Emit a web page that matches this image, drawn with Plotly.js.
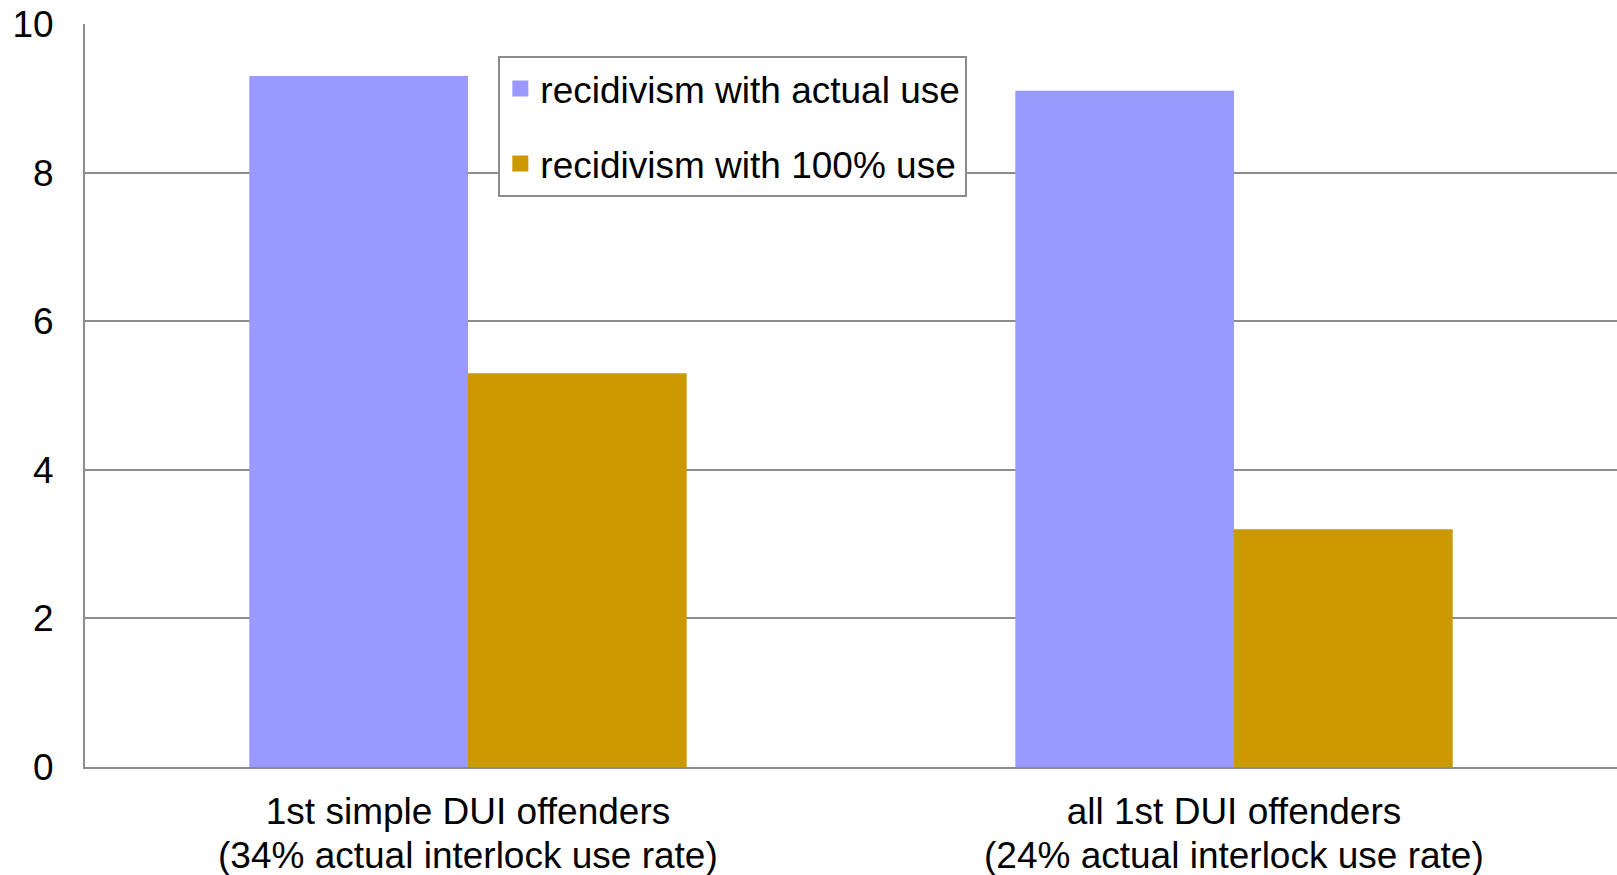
<!DOCTYPE html>
<html>
<head>
<meta charset="utf-8">
<script src="https://cdn.plot.ly/plotly-3.0.1.min.js"></script>
<style>html,body{margin:0;padding:0;background:#fff;}#chart{width:1617px;height:875px;}</style>
</head>
<body>
<div id="chart"></div>
<script>
const categories = ["1st simple DUI offenders", "all 1st DUI offenders"];
const categoryNotes = ["(34% actual interlock use rate)", "(24% actual interlock use rate)"];
const seriesNames = ["recidivism with actual use", "recidivism with 100% use"];
const actualUse = [9.3, 9.1];
const fullUse = [5.3, 3.2];
const yTicks = [0, 2, 4, 6, 8, 10];
const colors = ["#9999FF", "#CC9900"];

const font = {family: "Liberation Sans, Arial, sans-serif", size: 37, color: "#000"};
const gridColor = "#8c8c8c";

const traces = [
  {type: "bar", x: categories, y: actualUse, name: seriesNames[0], marker: {color: colors[0]}, showlegend: false, hoverinfo: "none"},
  {type: "bar", x: categories, y: fullUse, name: seriesNames[1], marker: {color: colors[1]}, showlegend: false, hoverinfo: "none"},
  {type: "scatter", mode: "markers", x: [categories[0]], y: [null], name: seriesNames[0], legendgroup: "a",
   marker: {symbol: "square", size: 20, color: colors[0]}, hoverinfo: "none"},
  {type: "scatter", mode: "markers", x: [categories[0]], y: [null], name: seriesNames[1], legendgroup: "b",
   marker: {symbol: "square", size: 20, color: colors[1]}, hoverinfo: "none"}
];

const annotations = categories.map((c, i) => ({
  xref: "x", yref: "paper", x: c, y: 0, yanchor: "middle", xanchor: "center",
  yshift: -88, text: categoryNotes[i], showarrow: false, font: font
}));

const layout = {
  width: 1617, height: 875,
  margin: {l: 85, r: 0, t: 24, b: 108, pad: 0},
  paper_bgcolor: "#fff", plot_bgcolor: "#fff",
  font: font,
  barmode: "group", bargap: 0.429, bargroupgap: 0,
  showlegend: true,
  legend: {
    x: 0.2698, y: 0.957, xanchor: "left", yanchor: "top",
    bordercolor: gridColor, borderwidth: 2, bgcolor: "#fff",
    font: font, traceorder: "grouped", tracegroupgap: 24
  },
  annotations: annotations,
  xaxis: {
    type: "category", showline: true, linecolor: gridColor, linewidth: 2,
    ticks: "", showgrid: false, tickfont: font, ticklabelstandoff: 11,
    fixedrange: true
  },
  yaxis: {
    range: [0, 10], tickvals: yTicks, ticktext: yTicks.map(String),
    showline: true, linecolor: gridColor, linewidth: 2,
    showgrid: true, gridcolor: gridColor, gridwidth: 2, zeroline: false,
    ticks: "", tickfont: font, ticklabelstandoff: 22, fixedrange: true
  }
};

Plotly.newPlot("chart", traces, layout, {displayModeBar: false, staticPlot: true});
</script>
</body>
</html>
